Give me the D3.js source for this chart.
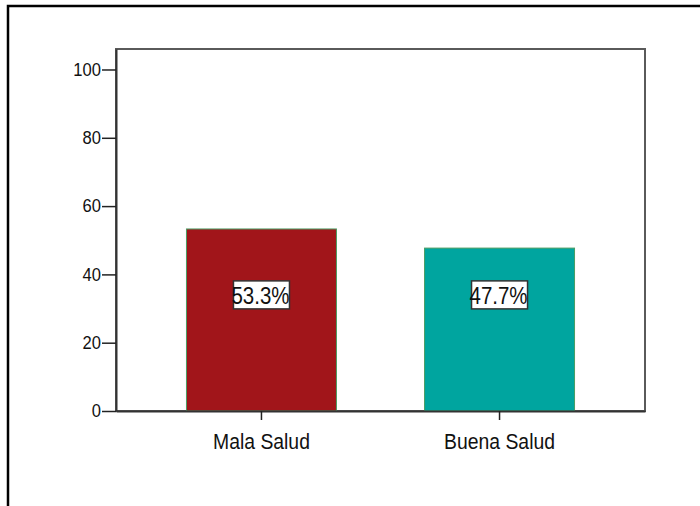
<!DOCTYPE html>
<html>
<head>
<meta charset="utf-8">
<script src="https://cdn.jsdelivr.net/npm/d3@7"></script>
<style>
  body { margin: 0; background: #fff; }
  text { font-family: "Liberation Sans", Arial, sans-serif; fill: #111; }
</style>
</head>
<body>
<div id="chart"></div>
<script>
// chart data
var categories = ["Mala Salud", "Buena Salud"];
var percents = [53.3, 47.7];
var barColors = ["#a1151a", "#00a59f"];
var yTicks = [0, 20, 40, 60, 80, 100];

var svgWidth = 700, svgHeight = 506;
var plot = { left: 116, right: 645, top: 49, bottom: 411 };

var svg = d3.select("#chart").append("svg")
  .attr("width", svgWidth)
  .attr("height", svgHeight);

// outer frame (right and bottom run off the page)
svg.append("rect")
  .attr("x", 8).attr("y", 6)
  .attr("width", 720).attr("height", 520)
  .attr("fill", "none")
  .attr("stroke", "#000")
  .attr("stroke-width", 2.5);

var x = d3.scaleBand()
  .domain(categories)
  .range([plot.left, plot.right])
  .paddingInner(0.37)
  .paddingOuter(0.296);

var y = d3.scaleLinear()
  .domain([0, 106])
  .range([plot.bottom, plot.top]);

// plot box
svg.append("rect")
  .attr("x", plot.left).attr("y", plot.top)
  .attr("width", plot.right - plot.left)
  .attr("height", plot.bottom - plot.top)
  .attr("fill", "#fff")
  .attr("stroke", "#5a5a5a")
  .attr("stroke-width", 2);

// bars
svg.selectAll("rect.bar")
  .data(percents)
  .enter()
  .append("rect")
  .attr("class", "bar")
  .attr("x", (d, i) => x(categories[i]))
  .attr("width", x.bandwidth())
  .attr("y", d => y(d))
  .attr("height", d => y(0) - y(d))
  .attr("fill", (d, i) => barColors[i])
  .attr("stroke", "#4a9c63")
  .attr("stroke-width", 1);

// y axis
var yAxis = svg.append("g")
  .attr("transform", `translate(${plot.left},0)`)
  .attr("font-size", 18)
  .call(d3.axisLeft(y).tickValues(yTicks).tickSize(14).tickSizeOuter(0).tickPadding(1));
yAxis.attr("font-size", 18).attr("font-family", "Liberation Sans, Arial, sans-serif");
yAxis.select(".domain").attr("stroke", "#333").attr("stroke-width", 2);
yAxis.selectAll(".tick line").attr("stroke", "#222").attr("stroke-width", 1.5);
yAxis.selectAll(".tick text")
  .style("font-size", "18px")
  .attr("fill", "#111")
  .each(function() {
    d3.select(this).attr("textLength", this.getComputedTextLength() * 0.92)
      .attr("lengthAdjust", "spacingAndGlyphs");
  });

// x axis
var xAxis = svg.append("g")
  .attr("transform", `translate(0,${plot.bottom})`)
  .call(d3.axisBottom(x).tickSize(9).tickSizeOuter(0).tickPadding(13));
xAxis.attr("font-size", 22).attr("font-family", "Liberation Sans, Arial, sans-serif");
xAxis.select(".domain").attr("stroke", "#333").attr("stroke-width", 2);
xAxis.selectAll(".tick line").attr("stroke", "#222").attr("stroke-width", 1.5);
xAxis.selectAll(".tick text")
  .style("font-size", "22px")
  .attr("fill", "#111")
  .each(function() {
    d3.select(this).attr("textLength", this.getComputedTextLength() * 0.88)
      .attr("lengthAdjust", "spacingAndGlyphs");
  });

// value labels in boxes
var labelLevel = 34;
var boxW = 56, boxH = 28;
var labels = svg.selectAll("g.vlabel")
  .data(percents)
  .enter()
  .append("g")
  .attr("class", "vlabel")
  .attr("transform", (d, i) =>
    `translate(${x(categories[i]) + x.bandwidth() / 2},${y(labelLevel)})`);

labels.append("rect")
  .attr("x", -boxW / 2).attr("y", -boxH / 2)
  .attr("width", boxW).attr("height", boxH)
  .attr("fill", "#fff")
  .attr("stroke", "#333")
  .attr("stroke-width", 1.5);

labels.append("text")
  .attr("text-anchor", "middle")
  .attr("x", -1)
  .attr("y", 9)
  .style("font-size", "24px")
  .attr("textLength", 58)
  .attr("lengthAdjust", "spacingAndGlyphs")
  .text(d => d.toFixed(1) + "%");
</script>
</body>
</html>
